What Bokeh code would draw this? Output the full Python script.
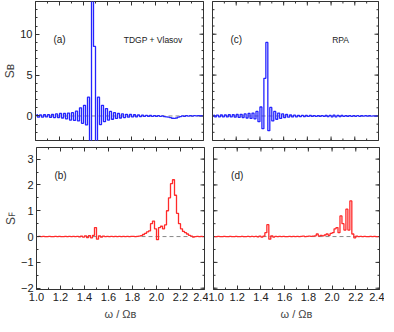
import numpy as np
from bokeh.plotting import figure
from bokeh.models import FixedTicker, Span, Label, Range1d, PrintfTickFormatter
from bokeh.layouts import column, row
from bokeh.embed import file_html
from bokeh.resources import INLINE

# ---------------- data ----------------
omega_start = 1.0
omega_step = 1.0 / 60.0

# (a) S_B, TDGP + Vlasov
sb_tdgp = [0.15, -0.15, 0.12, -0.15, 0.15, -0.12, 0.15, -0.18, 0.18, -0.2,
           0.25, -0.2, 0.3, -0.25, 0.3, -0.35, 0.35, -0.5, 0.4, -0.55,
           0.6, -0.6, 1.0, -0.9, 1.3, -1.1, 2.3, -3.5, 16.0, 8.5,
           -3.5, 2.3, -1.05, 1.3, -0.7, 0.9, -0.5, 0.55, -0.4, 0.4,
           -0.3, 0.3, -0.25, 0.25, -0.2, 0.2, -0.15, 0.18, -0.12, 0.15,
           -0.1, 0.12, -0.08, 0.1, -0.06, 0.08, -0.05, 0.06, -0.05, 0.05,
           -0.05, 0.04, -0.06, 0.0, -0.08, -0.1, -0.15, -0.2, -0.28, -0.3,
           -0.25, -0.15, -0.08, 0.02, -0.05, 0.05, -0.03, 0.05, -0.02, 0.04,
           0.0, 0.04, 0.0, 0.03]
# (c) S_B, RPA
sb_rpa = [0.1, -0.1, 0.1, -0.1, 0.12, -0.1, 0.12, -0.12, 0.15, -0.12,
          0.15, -0.15, 0.18, -0.18, 0.2, -0.2, 0.25, -0.25, 0.3, -0.3,
          0.35, -0.35, 0.55, -0.7, 1.1, -1.55, 4.6, 9.0, -1.8, 1.05,
          -0.6, 0.55, -0.4, 0.35, -0.3, 0.25, -0.2, 0.18, -0.15, 0.12,
          -0.12, 0.1, -0.1, 0.08, -0.08, 0.07, -0.07, 0.06, -0.06, 0.06,
          -0.06, 0.05, -0.05, 0.05, -0.05, 0.05, -0.06, 0.06, -0.08, 0.08,
          -0.1, 0.1, -0.1, 0.08, -0.08, 0.06, -0.06, 0.05, -0.05, 0.05,
          -0.05, 0.04, -0.04, 0.04, -0.04, 0.03, -0.03, 0.03, -0.03, 0.03,
          -0.02, 0.02, -0.02, 0.02]
# (b) S_F, TDGP + Vlasov
sf_tdgp = [0.0, 0.01, 0.0, 0.01, 0.0, 0.0, 0.01, 0.0, 0.0, 0.01,
           0.0, 0.01, 0.0, 0.0, 0.01, 0.0, 0.01, 0.0, 0.01, 0.0,
           0.01, -0.01, 0.02, -0.02, 0.03, -0.04, 0.04, -0.05, 0.05, 0.35,
           -0.1, 0.03, -0.02, 0.02, 0.0, 0.01, 0.0, 0.01, 0.0, 0.01,
           0.0, 0.01, 0.0, 0.01, 0.0, 0.01, 0.0, 0.01, 0.01, 0.0,
           0.01, 0.02, 0.04, 0.08, 0.12, 0.18, 0.22, 0.5, 0.6, 0.3,
           -0.12, 0.35, 0.4, 0.3, 0.45, 1.0, 1.5, 2.05, 2.2, 1.6,
           0.9, 0.5, 0.3, 0.2, 0.15, 0.1, 0.05, 0.02, -0.02, 0.0,
           0.01, 0.0, 0.01, 0.0]
# (d) S_F, RPA
sf_rpa = [0.0, 0.0, 0.01, 0.0, 0.0, 0.01, 0.0, 0.0, 0.01, 0.0,
          0.0, 0.01, 0.0, 0.0, 0.01, 0.0, 0.0, 0.01, 0.0, 0.01,
          0.0, 0.01, -0.01, 0.02, -0.02, 0.02, 0.15, 0.46, -0.1, 0.03,
          -0.02, 0.01, 0.0, 0.01, 0.0, 0.01, 0.0, 0.0, 0.01, 0.0,
          0.01, 0.0, 0.01, 0.0, 0.01, 0.02, 0.0, 0.01, 0.02, 0.01,
          0.02, 0.03, 0.1, 0.02, 0.05, 0.03, 0.06, 0.1, 0.05, 0.12,
          0.15, 0.3, 0.35, 0.15, 0.8, 0.5, 0.25, 1.06, 0.25, 1.38,
          0.1, -0.05, 0.02, 0.0, 0.01, 0.0, 0.01, 0.0, 0.0, 0.01,
          0.0, 0.01, 0.0, 0.0]

x_major = [1.0, 1.2, 1.4, 1.6, 1.8, 2.0, 2.2, 2.4]
x_minor = [1.0, 1.1, 1.2, 1.3, 1.4, 1.5, 1.6, 1.7, 1.8, 1.9, 2.0, 2.1, 2.2, 2.3, 2.4]
sb_major = [0, 5, 10]
sb_minor = [-3, -2, -1, 0, 1, 2, 3, 4, 5, 6, 7, 8, 9, 10, 11, 12, 13, 14]
sf_major = [-2, -1, 0, 1, 2, 3]
sf_minor = [-2.0, -1.5, -1.0, -0.5, 0.0, 0.5, 1.0, 1.5, 2.0, 2.5, 3.0]
sf_labels = {-1: "\u22121", -2: "\u22122"}

FONT = "Liberation Sans"
BLUE = "#2424ff"
RED = "#ff2a2a"
INK = "#333333"


def style_axis(ax, ticks, minor):
    ax.ticker = FixedTicker(ticks=ticks, minor_ticks=minor)
    ax.axis_line_color = None
    ax.major_tick_in = 4
    ax.major_tick_out = 0
    ax.minor_tick_in = 2
    ax.minor_tick_out = 0
    ax.major_tick_line_color = INK
    ax.minor_tick_line_color = INK
    ax.major_label_text_font = FONT
    ax.major_label_text_font_size = "11px"
    ax.major_label_text_color = "#222222"
    ax.major_label_standoff = 3


def edge_ticks(p, positions, edge, size):
    """Inward tick marks on an unlabelled edge, drawn as dash markers on the frame edge
    (half of each dash falls outside the frame and is clipped)."""
    n = len(positions)
    if edge in ("top", "bottom"):
        yv = p.y_range.end if edge == "top" else p.y_range.start
        p.scatter(x=positions, y=[yv] * n, marker="dash", angle=np.pi / 2,
                  size=size, line_color=INK, line_width=1)
    else:
        xv = p.x_range.end if edge == "right" else p.x_range.start
        p.scatter(x=[xv] * n, y=positions, marker="dash", angle=0,
                  size=size, line_color=INK, line_width=1)


def panel(values, color, yr, ymaj, ymin, fw, fh, borders, show_x, show_y,
          ylabel, tag, note, tag_y, yover=None):
    p = figure(frame_width=fw, frame_height=fh, x_range=Range1d(1.0, 2.4),
               y_range=Range1d(*yr), output_backend="svg", toolbar_location=None,
               min_border_left=borders[0], min_border_right=borders[1],
               min_border_top=borders[2], min_border_bottom=borders[3])
    p.grid.visible = False
    p.outline_line_color = INK
    p.outline_line_width = 1
    p.background_fill_color = "white"
    p.border_fill_color = "white"

    xax = p.xaxis[0]
    yax = p.yaxis[0]
    if show_x:
        style_axis(xax, x_major, x_minor)
        xax.formatter = PrintfTickFormatter(format="%.1f")
        xax.axis_label = "\u03c9 / \u03a9\u0299"
        xax.axis_label_text_font = FONT
        xax.axis_label_text_font_size = "11px"
        xax.axis_label_text_font_style = "normal"
        xax.axis_label_standoff = 4
    else:
        xax.visible = False
        edge_ticks(p, x_major, "bottom", 8)
        edge_ticks(p, x_minor, "bottom", 4)
    if show_y:
        style_axis(yax, ymaj, ymin)
        if yover:
            yax.major_label_overrides = yover
        yax.axis_label = ylabel
        yax.axis_label_text_font = FONT
        yax.axis_label_text_font_size = "12px"
        yax.axis_label_text_font_style = "normal"
        yax.axis_label_standoff = 0
    else:
        yax.visible = False
        edge_ticks(p, ymaj, "left", 8)
        edge_ticks(p, ymin, "left", 4)
    edge_ticks(p, x_major, "top", 8)
    edge_ticks(p, x_minor, "top", 4)
    edge_ticks(p, ymaj, "right", 8)
    edge_ticks(p, ymin, "right", 4)

    p.add_layout(Span(location=0, dimension="width", line_color="#888888",
                      line_dash="4 3", line_width=1, level="underlay"))
    omega = omega_start + omega_step * (np.arange(len(values)) + 0.5)
    p.step(omega, values, mode="center", line_color=color, line_width=1.3)

    p.add_layout(Label(x=1.2, y=tag_y, text=tag, text_font=FONT, text_font_size="10px",
                       text_align="center", text_baseline="middle", text_color="#222222"))
    if note:
        p.add_layout(Label(x=note[1], y=tag_y, text=note[0], text_font=FONT,
                           text_font_size="8.5px", text_align="center",
                           text_baseline="middle", text_color="#222222"))
    return p


pa = panel(sb_tdgp, BLUE, (-3, 14), sb_major, sb_minor, 168, 139, (27, 4, 1, 4),
           False, True, "S\u0299", "(a)", ("TDGP + Vlasov", 1.98), 9.3)
pc = panel(sb_rpa, BLUE, (-3, 14), sb_major, sb_minor, 166, 139, (5, 5, 1, 4),
           False, False, None, "(c)", ("RPA", 2.08), 9.3)
pb = panel(sf_tdgp, RED, (-2.05, 3.45), sf_major, sf_minor, 168, 142, (27, 4, 3, 26),
           True, True, "S\ua730", "(b)", None, 2.35, sf_labels)
pd = panel(sf_rpa, RED, (-2.05, 3.45), sf_major, sf_minor, 166, 142, (5, 5, 3, 26),
           True, False, None, "(d)", None, 2.35)

layout = column(row(pa, pc), row(pb, pd))
open("out.html", "w").write(file_html(layout, INLINE, "spectra"))
